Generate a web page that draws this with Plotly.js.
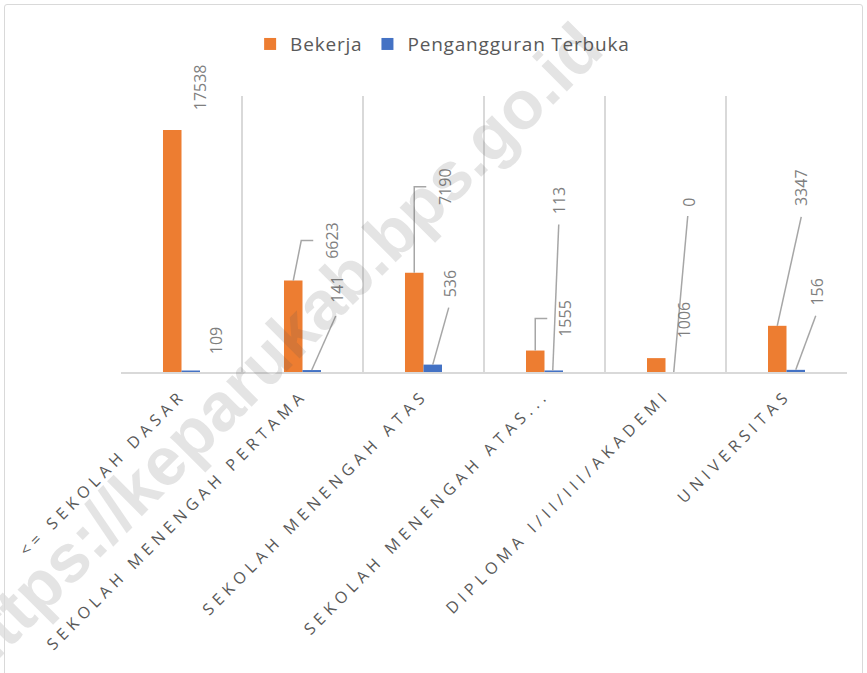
<!DOCTYPE html>
<html><head><meta charset="utf-8">
<script src="https://cdn.plot.ly/plotly-3.0.1.min.js"></script>
<style>
html,body{margin:0;padding:0;background:#fff;}
#chart{width:867px;height:673px;}
#frame{position:absolute;left:4px;top:4px;width:857px;height:700px;border:1.5px solid #d9d9d9;border-radius:3px;pointer-events:none;}
.xtick text{letter-spacing:5px;}
.legendtext{letter-spacing:0.8px;}
</style></head><body>
<div id="chart"></div><div id="frame"></div>
<script>
// ---- data ----
const categories = ["<= SEKOLAH DASAR", "SEKOLAH MENENGAH PERTAMA", "SEKOLAH MENENGAH ATAS", "SEKOLAH MENENGAH ATAS...", "DIPLOMA I/II/III/AKADEMI", "UNIVERSITAS"];
const bekerja = [17538, 6623, 7190, 1555, 1006, 3347];
const pengangguran = [109, 141, 536, 113, 0, 156];
const seriesNames = ["Bekerja", "Pengangguran Terbuka"];
const watermarkText = "https://keparukab.bps.go.id";

// ---- label placement (pixels, relative to bar top; y up) ----
const BAR_SHIFT = 9.25;
const bekLabelOff = [[28,43],[38,40],[31,86],[29,32],[28,38],[24,138]];
const bekLeader = [null, [[0,0],[8,40],[20,40]], [[0,0],[0,86],[12,86]], [[0,0],[0,32],[12,32]], null, [[0,0],[24,109]]];
const penLabelOff = [[25,30],[25,81],[17,81],[6,170],[14,170],[21,78]];
const penLeader = [null, [[0,0],[24,54]], [[0,0],[16,57]], [[-1,0],[5,146]], [[-1,0],[13,156]], [[0,0],[20,54]]];

const COL_B = '#ED7D31', COL_P = '#4472C4';
const FONT = 'Open Sans, Lato, sans-serif';

const traces = [
  {type:'bar', name:seriesNames[0], x:categories, y:bekerja, marker:{color:COL_B}, hoverinfo:'skip'},
  {type:'bar', name:seriesNames[1], x:categories, y:pengangguran, marker:{color:COL_P}, hoverinfo:'skip'}
];

const annotations = [];
const shapes = [];
function addLabels(vals, offs, leaders, shift){
  vals.forEach((v,i)=>{
    annotations.push({x:i, y:v, xref:'x', yref:'y', text:String(v), showarrow:false,
      textangle:-90, xshift:shift+offs[i][0], yshift:offs[i][1],
      font:{family:FONT, size:16, color:'#7f7f7f'}});
    const L = leaders[i];
    if(L){
      const path = L.map((p,k)=>(k?'L':'M')+(p[0]+shift)+','+p[1]).join(' ');
      shapes.push({type:'path', xref:'x', yref:'y', xsizemode:'pixel', ysizemode:'pixel',
        xanchor:i, yanchor:v, path:path, line:{color:'#a6a6a6', width:1.5}});
    }
  });
}
addLabels(bekerja, bekLabelOff, bekLeader, -BAR_SHIFT);
addLabels(pengangguran, penLabelOff, penLeader, BAR_SHIFT);

annotations.push({xref:'paper', yref:'paper', x:0.212, y:0.085, xanchor:'center', yanchor:'middle',
  text:'<b>'+watermarkText+'</b>', showarrow:false, textangle:-45,
  font:{family:'Liberation Sans, Arial, sans-serif', size:68, color:'rgba(90,90,90,0.16)'}});

const layout = {
  width:867, height:673,
  margin:{l:121, r:20, t:96, b:301},
  paper_bgcolor:'#fff', plot_bgcolor:'#fff',
  barmode:'group', bargap:0.694, bargroupgap:0,
  showlegend:true,
  legend:{orientation:'h', x:0.443, xanchor:'center', y:1.188, yanchor:'middle',
    font:{family:FONT, size:19, color:'#595959'}, itemclick:false, itemdoubleclick:false},
  xaxis:{type:'category', range:[-0.5,5.5], tickson:'boundaries', showgrid:true, gridcolor:'#d9d9d9', gridwidth:1.3,
    showline:true, linecolor:'#d9d9d9', linewidth:1.5, ticks:'', tickangle:-45, ticklabelstandoff:6,
    tickfont:{family:FONT, size:16, color:'#595959'}, fixedrange:true, automargin:false},
  yaxis:{range:[0,20000], visible:false, fixedrange:true},
  annotations:annotations, shapes:shapes
};
Plotly.newPlot('chart', traces, layout, {displayModeBar:false, staticPlot:true});
</script></body></html>
